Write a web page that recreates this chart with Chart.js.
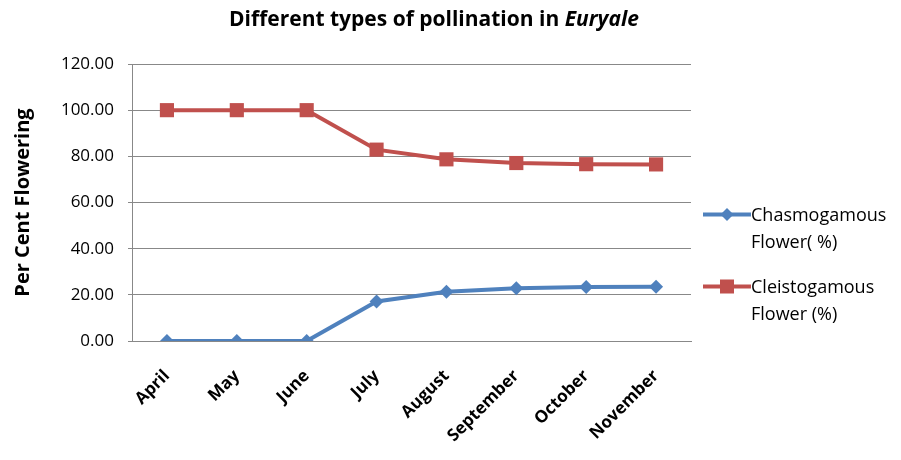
<!DOCTYPE html>
<html>
<head>
<meta charset="utf-8">
<script src="https://cdn.jsdelivr.net/npm/chart.js@4"></script>
<style>
  html, body { margin: 0; padding: 0; background: #fff; }
  #wrap { position: relative; width: 901px; height: 460px; font-family: 'Open Sans', sans-serif; }
  #title { position: absolute; left: 0; width: 868px; top: 4px; text-align: center;
           font-weight: bold; font-size: 21px; line-height: 28px; color: #000; }
  #legend { position: absolute; left: 703px; top: 201px; font-size: 18px; color: #000; }
  .item { display: flex; align-items: flex-start; margin-bottom: 18px; line-height: 27px; }
</style>
</head>
<body>
<div id="wrap">
  <div id="title">Different types of pollination in <i>Euryale</i></div>
  <canvas id="c" width="901" height="460"></canvas>
  <div id="legend"></div>
</div>
<script>
  // values
  const MONTHS = ['April', 'May', 'June', 'July', 'August', 'September', 'October', 'November'];
  const CHASMO = [0, 0, 0, 17.1, 21.3, 22.9, 23.4, 23.5];
  const CLEISTO = [100, 100, 100, 82.9, 78.7, 77.1, 76.6, 76.5];
  const SERIES_LABELS = [['Chasmogamous', 'Flower( %)'], ['Cleistogamous', 'Flower (%)']];

  const BLUE = '#4F81BD', RED = '#C0504D';
  const FONT = '"Open Sans", sans-serif';

  const datasets = [
    { data: CHASMO, borderColor: BLUE, backgroundColor: BLUE, pointStyle: 'rectRot', pointRadius: 7 },
    { data: CLEISTO, borderColor: RED, backgroundColor: RED, pointStyle: 'rect', pointRadius: 10 },
  ].map((d, i) => Object.assign(d, {
    label: SERIES_LABELS[i].join(' '), borderWidth: 4, tension: 0, fill: false,
    pointBorderWidth: 0, pointHoverRadius: d.pointRadius,
  }));

  new Chart(document.getElementById('c'), {
    type: 'line',
    data: { labels: MONTHS, datasets },
    options: {
      responsive: false, animation: false,
      layout: { padding: { top: 64, right: 210, left: 0, bottom: 0 } },
      plugins: { legend: { display: false }, tooltip: { enabled: false } },
      scales: {
        x: {
          offset: true,
          grid: { display: false, drawTicks: false },
          border: { color: '#888', width: 1 },
          ticks: { color: '#000', font: { family: FONT, size: 17, weight: 'bold' },
                   maxRotation: 45, minRotation: 45, padding: 25 },
          afterFit: s => { s.height = 119; },
        },
        y: {
          min: 0, max: 120,
          ticks: { stepSize: 20, color: '#000', padding: 14,
                   font: { family: FONT, size: 17 }, callback: v => v.toFixed(2) },
          grid: { color: '#888', lineWidth: 1, tickLength: 4 },
          border: { color: '#888', width: 1 },
          title: { display: true, text: 'Per Cent Flowering', color: '#000',
                   font: { family: FONT, size: 20, weight: 'bold' }, padding: { top: 11, bottom: 0 } },
          afterFit: s => { s.width = 132; },
        },
      },
    },
  });

  // legend with two-line labels, Excel style
  const legend = document.getElementById('legend');
  datasets.forEach((d, i) => {
    const item = document.createElement('div');
    item.className = 'item';
    const cv = document.createElement('canvas');
    cv.width = 48; cv.height = 27;
    const ctx = cv.getContext('2d');
    ctx.strokeStyle = d.borderColor; ctx.lineWidth = 4;
    ctx.beginPath(); ctx.moveTo(0, 13.5); ctx.lineTo(48, 13.5); ctx.stroke();
    ctx.fillStyle = d.backgroundColor;
    if (d.pointStyle === 'rect') {
      ctx.fillRect(17, 6.5, 14, 14);
    } else {
      ctx.beginPath(); ctx.moveTo(24, 7); ctx.lineTo(30.5, 13.5); ctx.lineTo(24, 20); ctx.lineTo(17.5, 13.5); ctx.closePath(); ctx.fill();
    }
    const txt = document.createElement('div');
    txt.innerHTML = SERIES_LABELS[i].join('<br>');
    item.appendChild(cv); item.appendChild(txt);
    legend.appendChild(item);
  });
</script>
</body>
</html>
